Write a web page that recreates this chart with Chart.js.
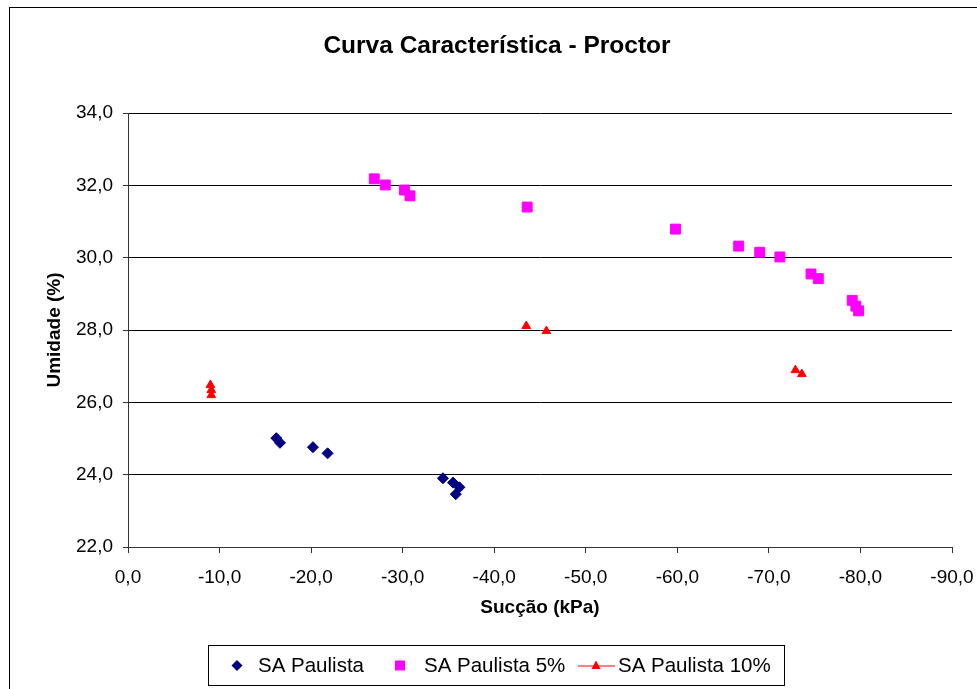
<!DOCTYPE html>
<html>
<head>
<meta charset="utf-8">
<script src="https://cdn.jsdelivr.net/npm/chart.js@4/dist/chart.umd.min.js"></script>
<style>
  html, body { margin: 0; padding: 0; background: #fff; }
  #wrap { width: 977px; height: 689px; position: relative; }
</style>
</head>
<body>
<div id="wrap"><canvas id="c" width="977" height="689"></canvas></div>
<script>
// ---- Data ----
const titleText = 'Curva Característica - Proctor';
const xTitle = 'Sucção (kPa)';
const yTitle = 'Umidade (%)';
const seriesNames = ['SA Paulista', 'SA Paulista 5%', 'SA Paulista 10%'];

const paulistaX = [-16.2, -16.6, -20.2, -21.8, -34.4, -35.5, -36.2, -35.8];
const paulistaY = [25.01, 24.88, 24.76, 24.59, 23.90, 23.78, 23.65, 23.46];

const p5X = [-26.9, -28.1, -30.2, -30.8, -43.6, -59.8, -66.7, -69.0, -71.2, -74.6, -75.4, -79.1, -79.5, -79.8];
const p5Y = [32.18, 32.01, 31.87, 31.71, 31.40, 30.79, 30.32, 30.15, 30.02, 29.55, 29.42, 28.82, 28.66, 28.53];

const p10X = [-9.0, -9.1, -9.1, -43.5, -45.7, -72.9, -73.6];
const p10Y = [26.48, 26.34, 26.20, 28.11, 27.97, 26.89, 26.78];

const xMin = -90, xMax = 0, xStep = 10;
const yMin = 22, yMax = 34, yStep = 2;

const FONT = '"Liberation Sans", Arial, Helvetica, sans-serif';
const colors = ['#000080', '#FF00FF', '#FF0000'];

function pts(xs, ys) { return xs.map((x, i) => ({ x: x, y: ys[i] })); }
function fmt(v) { return Number(v).toFixed(1).replace('.', ','); }

// Frame + background
const framePlugin = {
  id: 'frame',
  beforeDraw(chart) {
    const ctx = chart.ctx;
    ctx.save();
    ctx.fillStyle = '#fff';
    ctx.fillRect(0, 0, chart.width, chart.height);
    ctx.strokeStyle = '#000';
    ctx.lineWidth = 1;
    ctx.strokeRect(9.5, 7.5, 990, 700);
    ctx.restore();
  }
};

// Legend drawn in Excel style (box with markers, line sample for 3rd series)
const legendPlugin = {
  id: 'xlLegend',
  afterDraw(chart) {
    const ctx = chart.ctx;
    ctx.save();
    const bx = 208.5, by = 645.5, bw = 576, bh = 40;
    ctx.strokeStyle = '#000';
    ctx.lineWidth = 1;
    ctx.strokeRect(bx, by, bw, bh);
    const cy = by + bh / 2;
    ctx.font = '20.5px ' + FONT;
    ctx.textBaseline = 'middle';
    ctx.textAlign = 'left';
    // item 1 diamond
    ctx.fillStyle = colors[0];
    ctx.beginPath(); ctx.moveTo(237 - 5.5, cy); ctx.lineTo(237, cy - 5.5); ctx.lineTo(237 + 5.5, cy); ctx.lineTo(237, cy + 5.5); ctx.closePath(); ctx.fill();
    ctx.fillStyle = '#000';
    ctx.fillText(seriesNames[0], 258, cy + 1);
    // item 2 square
    ctx.fillStyle = colors[1];
    ctx.fillRect(400 - 5, cy - 5, 10, 10);
    ctx.fillStyle = '#000';
    ctx.fillText(seriesNames[1], 424, cy + 1);
    // item 3 line + triangle
    ctx.strokeStyle = colors[2];
    ctx.lineWidth = 1;
    ctx.beginPath(); ctx.moveTo(578, cy + 0.5); ctx.lineTo(615, cy + 0.5); ctx.stroke();
    ctx.fillStyle = colors[2];
    ctx.beginPath(); ctx.moveTo(596, cy - 5); ctx.lineTo(600.5, cy + 3.5); ctx.lineTo(591.5, cy + 3.5); ctx.closePath(); ctx.fill();
    ctx.fillStyle = '#000';
    ctx.fillText(seriesNames[2], 618, cy + 1);
    ctx.restore();
  }
};

new Chart(document.getElementById('c'), {
  type: 'scatter',
  data: {
    datasets: [
      { label: seriesNames[0], data: pts(paulistaX, paulistaY), pointStyle: 'rectRot', pointRadius: 5.5,
        backgroundColor: colors[0], borderColor: colors[0], borderWidth: 1, showLine: false },
      { label: seriesNames[1], data: pts(p5X, p5Y), pointStyle: 'rect', pointRadius: 7,
        backgroundColor: colors[1], borderColor: colors[1], borderWidth: 1, showLine: false },
      { label: seriesNames[2], data: pts(p10X, p10Y), pointStyle: 'triangle', pointRadius: 5,
        backgroundColor: colors[2], borderColor: colors[2], borderWidth: 1, showLine: false }
    ]
  },
  options: {
    responsive: false,
    animation: false,
    devicePixelRatio: 1,
    layout: { padding: { left: 42, top: 0, right: 25, bottom: 69.6 } },
    plugins: {
      legend: { display: false },
      tooltip: { enabled: false },
      title: {
        display: true, text: titleText, color: '#000',
        font: { family: FONT, size: 24.5, weight: 'bold' },
        padding: { top: 31.3, bottom: 52.3 }
      }
    },
    scales: {
      x: {
        type: 'linear', reverse: true, min: xMin, max: xMax,
        afterFit(s) { s.height = 72.4; s.paddingRight = 0; s.paddingLeft = 0; },
        ticks: { stepSize: xStep, callback: v => fmt(v), color: '#000', font: { family: FONT, size: 19 }, padding: 13, maxRotation: 0, autoSkip: false },
        grid: {
          drawOnChartArea: true, drawTicks: true, tickLength: 6,
          color: c => (c.index === 0 ? '#808080' : 'rgba(0,0,0,0)'),
          tickColor: '#333'
        },
        border: { display: true, color: '#333', width: 1 },
        title: { display: true, text: xTitle, color: '#000', font: { family: FONT, size: 19, weight: 'bold' }, padding: { top: 7.8, bottom: 0 } }
      },
      y: {
        type: 'linear', min: yMin, max: yMax,
        afterFit(s) { s.width = 86; s.paddingTop = 0; s.paddingBottom = 0; },
        ticks: { stepSize: yStep, callback: v => fmt(v), color: '#000', font: { family: FONT, size: 19 }, padding: 10 },
        grid: { color: '#000', lineWidth: 1, drawTicks: true, tickLength: 5, tickColor: '#333' },
        border: { display: true, color: '#333', width: 1 },
        title: { display: true, text: yTitle, color: '#000', font: { family: FONT, size: 19, weight: 'bold' }, padding: { top: 1.6, bottom: 0 } }
      }
    }
  },
  plugins: [framePlugin, legendPlugin]
});
</script>
</body>
</html>
